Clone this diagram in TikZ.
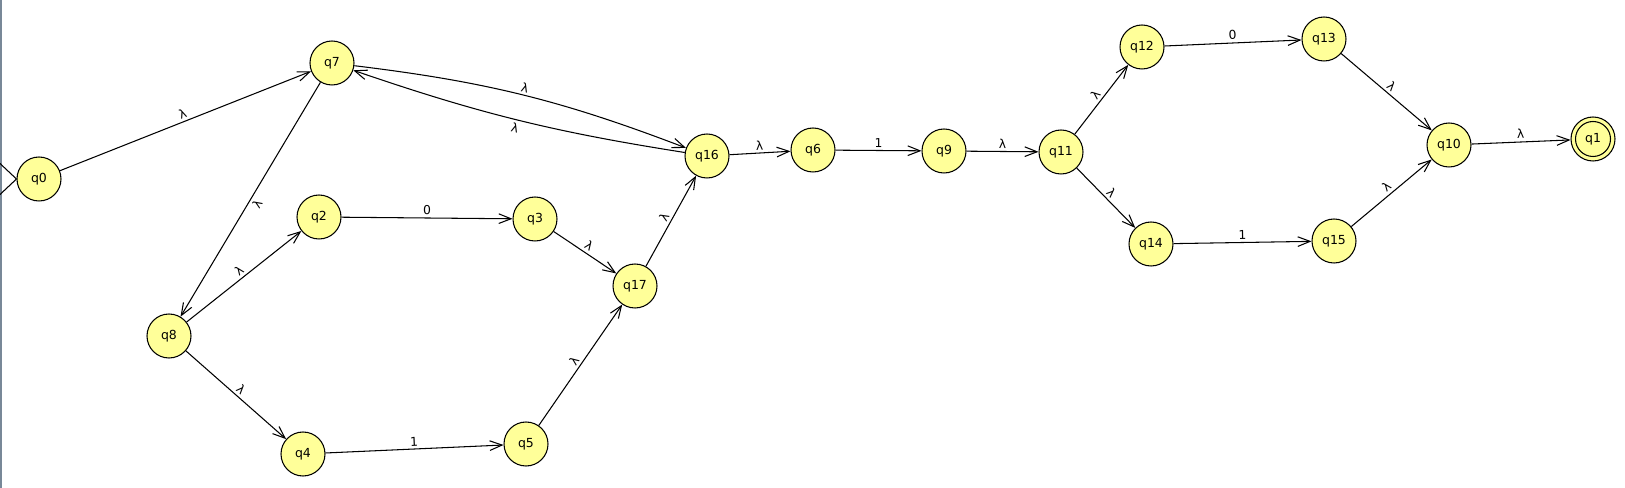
\documentclass[tikz,border=0pt]{standalone}
\usepackage{fontspec}
\setmainfont{DejaVu Sans}
\usetikzlibrary{arrows.meta}
\definecolor{stateyellow}{RGB}{255,255,153}
\definecolor{framegray}{RGB}{120,136,152}

\begin{document}
\begin{tikzpicture}[
  state/.style={circle,draw=black,fill=stateyellow,line width=0.6pt,minimum size=0.88cm,inner sep=0pt,font=\fontsize{7.1}{8}\selectfont},
  trans/.style={-{Straight Barb[length=7pt,width=5.5pt]},line width=0.6pt},
  lab/.style={sloped,above,inner sep=1.5pt,font=\fontsize{7}{8}\selectfont}
]
\useasboundingbox (0,0) rectangle (32.5,9.76);
\draw[framegray,line width=1.2pt] (0.02,0) -- (0.02,9.76);

%states
\node[state] (q0) at (0.78,6.18) {q0};
\node[state] (q7) at (6.64,8.50) {q7};
\node[state] (q8) at (3.38,3.04) {q8};
\node[state] (q2) at (6.38,5.42) {q2};
\node[state] (q3) at (10.70,5.38) {q3};
\node[state] (q4) at (6.06,0.68) {q4};
\node[state] (q5) at (10.52,0.88) {q5};
\node[state] (q17) at (12.70,4.04) {q17};
\node[state] (q16) at (14.14,6.64) {q16};
\node[state] (q6) at (16.26,6.76) {q6};
\node[state] (q9) at (18.88,6.74) {q9};
\node[state] (q11) at (21.22,6.72) {q11};
\node[state] (q12) at (22.84,8.82) {q12};
\node[state] (q13) at (26.48,8.98) {q13};
\node[state] (q14) at (23.02,4.88) {q14};
\node[state] (q15) at (26.68,4.94) {q15};
\node[state] (q10) at (28.98,6.86) {q10};
\node[state] (q1) at (31.86,6.98) {q1};
\draw[line width=0.6pt] (q1.center) circle (0.35);

%start
\draw[line width=0.6pt] (q0.west) -- ++(-0.34,0.32);
\draw[line width=0.6pt] (q0.west) -- ++(-0.34,-0.32);

%transitions
\draw[trans] (q0) -- node[lab]{λ} (q7);
\draw[trans] (q7) -- node[lab,below]{λ} (q8);
\draw[trans] (q8) -- node[lab]{λ} (q2);
\draw[trans] (q8) -- node[lab]{λ} (q4);
\draw[trans] (q2) -- node[lab]{0} (q3);
\draw[trans] (q4) -- node[lab]{1} (q5);
\draw[trans] (q3) -- node[lab]{λ} (q17);
\draw[trans] (q5) -- node[lab]{λ} (q17);
\draw[trans] (q17) -- node[lab]{λ} (q16);
\draw[trans] (q7) to[bend left=7] node[lab]{λ} (q16);
\draw[trans] (q16) to[bend left=5] node[lab,below]{λ} (q7);
\draw[trans] (q16) -- node[lab]{λ} (q6);
\draw[trans] (q6) -- node[lab]{1} (q9);
\draw[trans] (q9) -- node[lab]{λ} (q11);
\draw[trans] (q11) -- node[lab]{λ} (q12);
\draw[trans] (q11) -- node[lab]{λ} (q14);
\draw[trans] (q12) -- node[lab]{0} (q13);
\draw[trans] (q14) -- node[lab]{1} (q15);
\draw[trans] (q13) -- node[lab]{λ} (q10);
\draw[trans] (q15) -- node[lab]{λ} (q10);
\draw[trans] (q10) -- node[lab]{λ} (q1);
\end{tikzpicture}
\end{document}
